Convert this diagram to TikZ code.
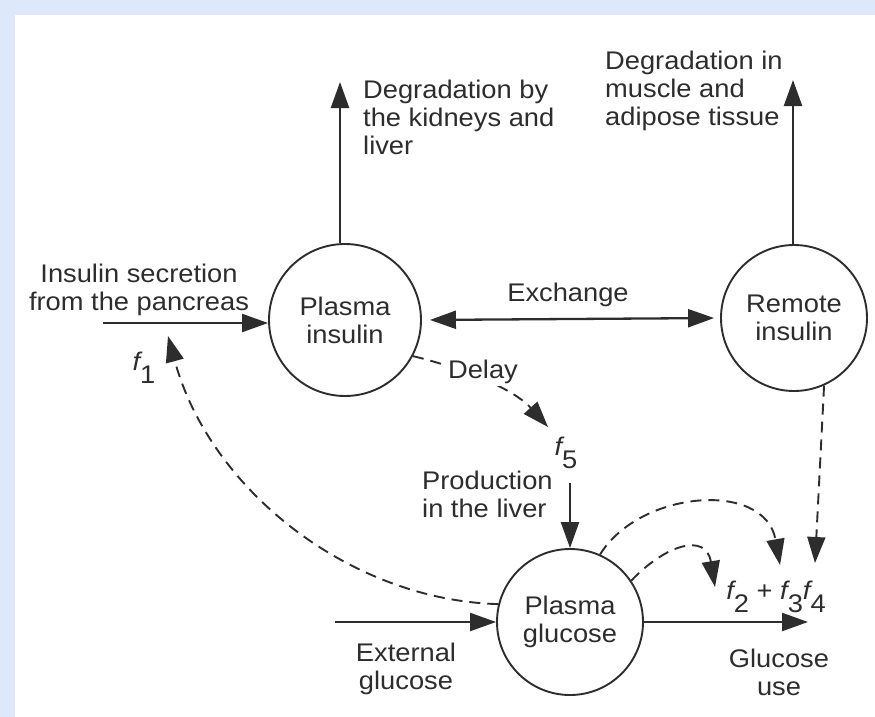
\documentclass[tikz,border=0pt]{standalone}
\usepackage{fontspec}
\setmainfont[FakeStretch=1.07]{Liberation Sans}
\usetikzlibrary{arrows.meta}
\definecolor{bgblue}{RGB}{221,232,250}
\definecolor{ink}{RGB}{45,45,45}
\newcommand{\fsub}[2]{{\itshape #1}\raisebox{-0.5em}{#2}}
\begin{document}
\begin{tikzpicture}[x=1pt,y=-1pt,
  every node/.style={text=ink, font=\fontsize{25.5}{28}\selectfont},
  circ/.style={circle, draw=ink, line width=1.9pt, minimum size=146pt, inner sep=0pt, align=center},
  lbl/.style={inner sep=0pt, align=left},
  clbl/.style={inner sep=0pt, align=center},
  headtip/.style={-{Triangle[length=26pt,width=18pt]}},
  sol/.style={draw=ink, line width=2.3pt, headtip},
  dsh/.style={draw=ink, line width=1.9pt, dash pattern=on 11pt off 7pt, headtip},
]
\fill[bgblue] (0,0) rectangle (875,717);
\fill[white] (15,15) rectangle (875,717);
\useasboundingbox (0,0) rectangle (875,717);

% circles
\node[circ, minimum size=152pt] (pi) at (345,320) {Plasma\\insulin};
\node[circ] (ri) at (794,318) {Remote\\insulin};
\node[circ] (pg) at (570,622) {Plasma\\glucose};

% labels
\node[lbl, anchor=west] (dk) at (363,117) {Degradation by\\the kidneys and\\liver};
\node[lbl, anchor=west] (dm) at (605,91) {Degradation in\\muscle and\\adipose tissue};
\node[clbl] (is) at (139,290) {Insulin secretion\\from the pancreas};
\node[clbl] (ex) at (568,295) {Exchange};
\node[lbl, anchor=west] (pr) at (422,494) {Production\\in the liver};
\node[clbl] (gu) at (779,672) {Glucose\\use};
\node[clbl] (eg) at (406,669) {External\\glucose};
\node[clbl] (f1) at (144,368) {\fsub{f}{1}};
\node[clbl] (f5) at (566,453) {\fsub{f}{5}};
\node[clbl] (fs) at (776,597) {\fsub{f}{2} + \fsub{f}{3}\fsub{f}{4}};

% coordinates for free ends
\coordinate (dktip) at (340,82);
\coordinate (dmtip) at (793,80);
\coordinate (isrc) at (103,323);
\coordinate (f5tip) at (548,427);
\coordinate (f1tip) at (168,336);
\coordinate (r4tip) at (815,563);
\coordinate (f3tip) at (780,565);
\coordinate (f2tip) at (715,587);
\coordinate (gutip) at (808,622);
\coordinate (exsrc) at (335,622);
\coordinate (prsrc) at (570,483);

% solid connectors
\draw[sol] (pi.north -| dktip) -- (dktip);
\draw[sol] (ri.north -| dmtip) -- (dmtip);
\draw[sol] (isrc) -- (isrc -| pi.west);
\draw[sol, {Triangle[length=26pt,width=18pt]}-{Triangle[length=26pt,width=18pt]}, shorten <=8pt, shorten >=6pt] (pi.east) -- (ri.west);
\draw[sol] (prsrc) -- (pg);
\draw[sol] (exsrc) -- (pg);
\draw[sol] (pg) -- (gutip);

% dashed connectors
\draw[dsh] (pi.-28) .. controls (450,365) and (510,385) .. (f5tip);
\node[clbl, fill=white, inner sep=2pt] (dl) at (483,372) {Delay};
\draw[dsh] (pg.166) .. controls (350,600) and (210,490) .. (f1tip);
\draw[dsh] (ri.-66) -- (r4tip);
\draw[dsh] (pg.66) .. controls (640,490) and (765,480) .. (f3tip);
\draw[dsh] (pg.34) .. controls (665,545) and (706,532) .. (f2tip);
\end{tikzpicture}
\end{document}
